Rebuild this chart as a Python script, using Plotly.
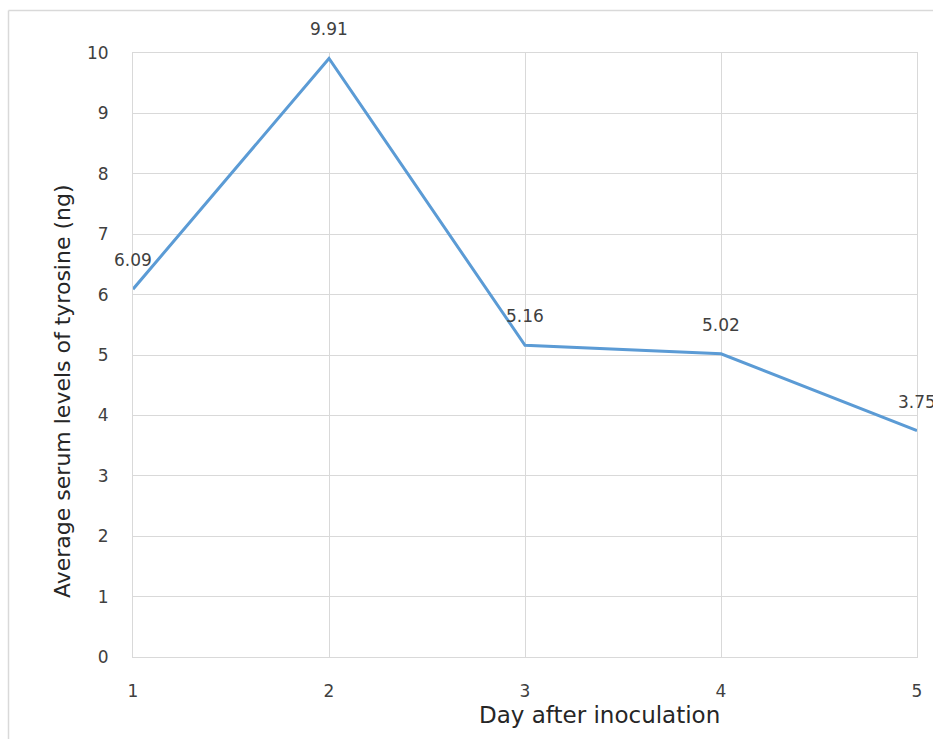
import plotly.graph_objects as go

days = [1, 2, 3, 4, 5]
tyrosine = [6.09, 9.91, 5.16, 5.02, 3.75]
value_labels = ["6.09", "9.91", "5.16", "5.02", "3.75"]
x_ticks = [1, 2, 3, 4, 5]
y_ticks = list(range(0, 11))

W, H = 933, 739
L, R, T, B = 133, 16, 53, 82
pw, ph = W - L - R, H - T - B

def px_x(px):
    return (px - L) / pw

def px_y(py):
    return (H - B - py) / ph

font_family = "'DejaVu Sans', sans-serif"

fig = go.Figure()
fig.add_trace(go.Scatter(
    x=days, y=tyrosine, mode="lines",
    line=dict(color="#5B9BD5", width=3),
    hoverinfo="skip", cliponaxis=True,
))

for d, v, lab in zip(days, tyrosine, value_labels):
    fig.add_annotation(x=d, y=v, text=lab, showarrow=False, yshift=29,
                       font=dict(family=font_family, size=17, color="#404040"),
                       xanchor="center", yanchor="middle")

fig.add_annotation(xref="paper", yref="paper", x=px_x(599), y=px_y(715),
                   text="Day after inoculation", showarrow=False,
                   font=dict(family=font_family, size=23, color="#262626"),
                   xanchor="center", yanchor="middle")
fig.add_annotation(xref="paper", yref="paper", x=px_x(62), y=px_y(391),
                   text="Average serum levels of tyrosine (ng)", showarrow=False,
                   textangle=-90,
                   font=dict(family=font_family, size=22, color="#262626"),
                   xanchor="center", yanchor="middle")

# outer chart border (left and top visible)
fig.add_shape(type="line", xref="paper", yref="paper",
              x0=px_x(8.5), x1=px_x(8.5), y0=px_y(10.5), y1=px_y(760),
              line=dict(color="#D9D9D9", width=1.5))
fig.add_shape(type="line", xref="paper", yref="paper",
              x0=px_x(8.5), x1=px_x(960), y0=px_y(10.5), y1=px_y(10.5),
              line=dict(color="#D9D9D9", width=1.5))

fig.update_layout(
    width=W, height=H,
    margin=dict(l=L, r=R, t=T, b=B),
    paper_bgcolor="white", plot_bgcolor="white",
    showlegend=False,
    xaxis=dict(range=[1, 5], tickvals=x_ticks, ticktext=[str(t) for t in x_ticks],
               showgrid=True, gridcolor="#D9D9D9", gridwidth=1,
               showline=True, linecolor="#D9D9D9", linewidth=1, mirror=True,
               zeroline=False, ticks="", ticklabelstandoff=19,
               tickfont=dict(family=font_family, size=17, color="#404040")),
    yaxis=dict(range=[0, 10], tickvals=y_ticks,
               showgrid=True, gridcolor="#D9D9D9", gridwidth=1,
               showline=True, linecolor="#D9D9D9", linewidth=1, mirror=True,
               zeroline=False, ticks="", ticklabelstandoff=20,
               tickfont=dict(family=font_family, size=17, color="#404040")),
)

fig.write_html("out.html", config={"displayModeBar": False},
               post_script="document.body.style.margin='0';document.body.style.overflow='hidden';")
